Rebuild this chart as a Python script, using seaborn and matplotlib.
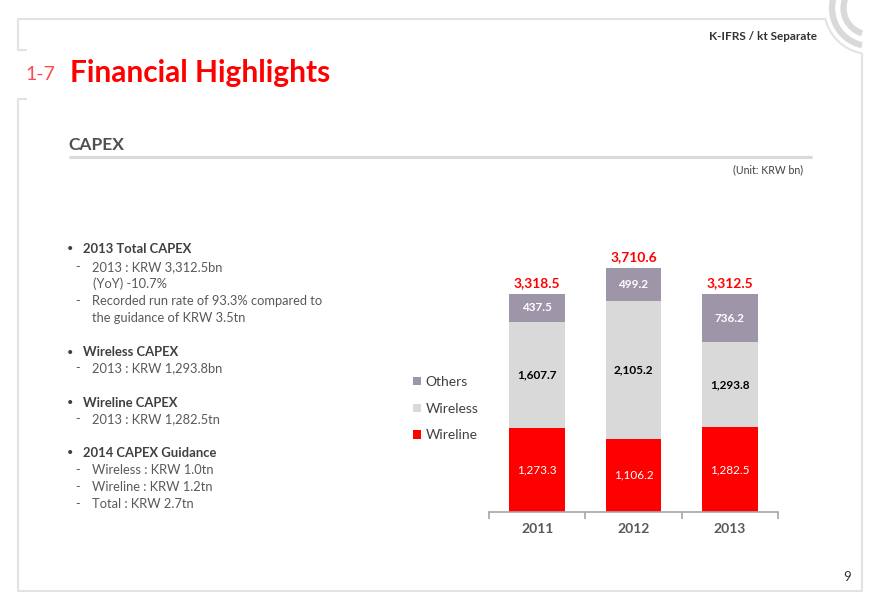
import matplotlib
matplotlib.use("Agg")
import matplotlib.pyplot as plt
from matplotlib.patches import Arc, Patch
import seaborn as sns
import numpy as np

# ---------------- data ----------------
years = ["2011", "2012", "2013"]
wireline = [1273.3, 1106.2, 1282.5]
wireless = [1607.7, 2105.2, 1293.8]
others = [437.5, 499.2, 736.2]
series_names = ["Others", "Wireless", "Wireline"]

bullets = [
    ("head", "2013 Total CAPEX", 249),
    ("item", "2013 : KRW 3,312.5bn", 267),
    ("cont", "(YoY) -10.7%", 284),
    ("item", "Recorded run rate of 93.3% compared to", 301),
    ("cont2", "the guidance of KRW 3.5tn", 318),
    ("head", "Wireless CAPEX", 352),
    ("item", "2013 : KRW 1,293.8bn", 368),
    ("head", "Wireline CAPEX", 403),
    ("item", "2013 : KRW 1,282.5tn", 419),
    ("head", "2014 CAPEX Guidance", 453),
    ("item", "Wireless : KRW 1.0tn", 470),
    ("item", "Wireline : KRW 1.2tn", 487),
    ("item", "Total : KRW 2.7tn", 504),
]

C_RED = "#FF0000"
C_WLS = "#D9D9D9"
C_OTH = "#9F95A8"
C_FRAME = "#E3E3E3"

sns.set_theme(style="white")
plt.rcParams["font.family"] = ["Lato", "DejaVu Sans"]

fig = plt.figure(figsize=(8.8, 6.09), dpi=100)
fig.patch.set_facecolor("white")

# ---------------- page decoration (pixel coordinates) ----------------
bg = fig.add_axes([0, 0, 1, 1])
bg.set_xlim(0, 880)
bg.set_ylim(609, 0)
bg.axis("off")

lw_frame = 1.5
bg.plot([27, 18, 18, 825], [50, 50, 19, 19], color=C_FRAME, lw=lw_frame, solid_capstyle="butt")
bg.plot([27, 18, 18, 862, 862], [99, 99, 591, 591, 53], color=C_FRAME, lw=lw_frame, solid_capstyle="butt")
bg.add_patch(Arc((870, 8), 92, 92, theta1=100, theta2=167.5, color=C_FRAME, lw=lw_frame))
bg.add_patch(Arc((870, 8), 76, 76, theta1=102.2, theta2=200, color="#D9D9D9", lw=4.5))
bg.add_patch(Arc((870, 8), 53, 53, theta1=107.6, theta2=200, color="#D9D9D9", lw=4.5))

bg.text(817, 37, "K-IFRS / kt Separate", ha="right", va="center", fontsize=8.5,
        fontweight="bold", color="#333333")
bg.text(25, 74, "1-7", ha="left", va="center", fontsize=14, color="#FF4B4B")
bg.text(70, 73, "Financial Highlights", ha="left", va="center", fontsize=21.5,
        fontweight="bold", color=C_RED)
bg.text(68.5, 145, "CAPEX", ha="left", va="center", fontsize=12.5, fontweight="bold",
        color="#505050")
bg.plot([68.5, 812], [157, 157], color="#D9D9D9", lw=2.2, solid_capstyle="butt")
bg.text(803, 170, "(Unit: KRW bn)", ha="right", va="center", fontsize=7.6, color="#404040")
bg.text(851, 577, "9", ha="right", va="center", fontsize=9.5, color="#333333")

for kind, txt, y in bullets:
    if kind == "head":
        bg.text(70, y, "•", ha="center", va="center", fontsize=8, color="#404040")
        bg.text(83, y, txt, ha="left", va="center", fontsize=9.4, fontweight="bold",
                color="#404040")
    elif kind == "item":
        bg.text(78, y, "-", ha="center", va="center", fontsize=9.3, color="#595959")
        bg.text(91.5, y, txt, ha="left", va="center", fontsize=9.3, color="#595959")
    elif kind == "cont":
        bg.text(93, y, txt, ha="left", va="center", fontsize=9.3, color="#595959")
    else:
        bg.text(91.5, y, txt, ha="left", va="center", fontsize=9.3, color="#595959")

# ---------------- chart ----------------
ax = fig.add_axes([489 / 880, (609 - 511.7) / 609, 289 / 880, 263 / 609])
ax.patch.set_alpha(0)

wl = np.array(wireline)
cum_wls = wl + np.array(wireless)
cum_tot = cum_wls + np.array(others)

sns.barplot(x=years, y=cum_tot, color=C_OTH, width=0.58, saturation=1,
            errorbar=None, linewidth=0, ax=ax)
sns.barplot(x=years, y=cum_wls, color=C_WLS, width=0.58, saturation=1,
            errorbar=None, linewidth=0, ax=ax)
sns.barplot(x=years, y=wl, color=C_RED, width=0.58, saturation=1,
            errorbar=None, linewidth=0, ax=ax)

ax.set_xlim(-0.5, 2.5)
ax.set_ylim(0, 4000)
ax.set_xlabel("")
ax.set_ylabel("")
ax.set_yticks([])
for s in ["top", "right", "left"]:
    ax.spines[s].set_visible(False)
ax.spines["bottom"].set_color("#A6A6A6")
ax.spines["bottom"].set_linewidth(1.2)
ax.set_xticks(range(len(years)))
ax.set_xticklabels(years, fontsize=10, fontweight="bold", color="#595959")
ax.set_xticks([-0.5, 0.5, 1.5, 2.5], minor=True)
ax.tick_params(axis="x", which="major", length=0, pad=8)
ax.tick_params(axis="x", which="minor", length=5, width=1.2, color="#A6A6A6",
               direction="out", bottom=True)

for i in range(len(years)):
    ax.text(i, wl[i] / 2, f"{wireline[i]:,.1f}", ha="center", va="center",
            fontsize=8.5, color="white")
    ax.text(i, wl[i] + wireless[i] / 2, f"{wireless[i]:,.1f}", ha="center",
            va="center", fontsize=8.5, fontweight="bold", color="black")
    ax.text(i, cum_wls[i] + others[i] / 2, f"{others[i]:,.1f}", ha="center",
            va="center", fontsize=8.5, fontweight="bold", color="white")
    ax.annotate(f"{cum_tot[i]:,.1f}", (i, cum_tot[i]), xytext=(0, 7.6),
                textcoords="offset points", ha="center", va="center",
                fontsize=10, fontweight="bold", color=C_RED, annotation_clip=False)

handles = [Patch(facecolor=c, edgecolor="none") for c in [C_OTH, C_WLS, C_RED]]
leg = fig.legend(handles, series_names, loc="upper left",
                 bbox_to_anchor=(413, 376), bbox_transform=bg.transData,
                 frameon=False, fontsize=10, handlelength=0.55, handleheight=0.55,
                 handletextpad=0.35, labelspacing=1.06, borderpad=0, borderaxespad=0)
for t in leg.get_texts():
    t.set_color("#404040")

fig.savefig("out.png", dpi=100)
